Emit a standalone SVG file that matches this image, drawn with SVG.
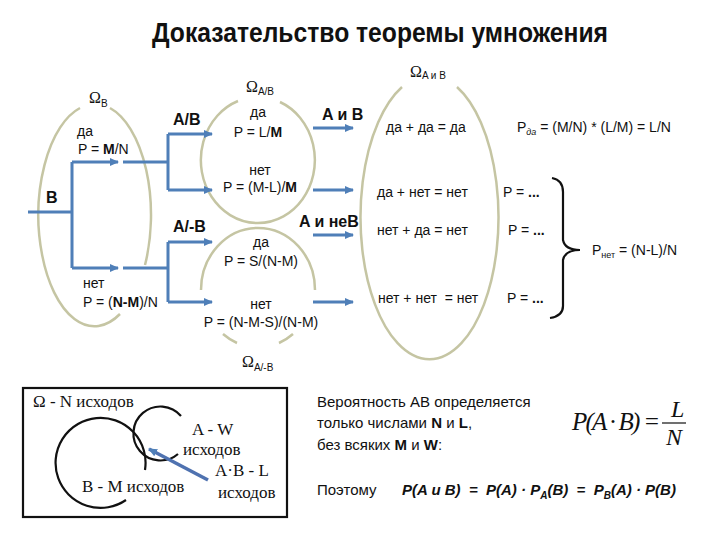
<svg xmlns="http://www.w3.org/2000/svg" width="720" height="540" viewBox="0 0 720 540">
<style>
.t{font-family:"Liberation Sans",Arial,sans-serif;font-size:14px;fill:#111}
.b{font-family:"Liberation Sans",Arial,sans-serif;font-size:16px;font-weight:bold;fill:#111}
.om{font-family:"Liberation Serif","Times New Roman",serif;font-size:16px;fill:#111}
.sub{font-family:"Liberation Sans",Arial,sans-serif;font-size:10px;fill:#111}
.ser{font-family:"Liberation Serif","Times New Roman",serif;font-size:17px;fill:#111}
.r{font-family:"Liberation Sans",Arial,sans-serif;font-size:15px;fill:#111}
.ell{fill:none;stroke:#c5c5a3;stroke-width:2.5}
.con{fill:none;stroke:#4f7fb8;stroke-width:3}
.blk{fill:none;stroke:#111;stroke-width:2.2}
.pre{white-space:pre}
</style>
<defs>
<marker id="ah" markerWidth="10" markerHeight="10" refX="8" refY="5" orient="auto" markerUnits="userSpaceOnUse">
<path d="M0,1 L9,5 L0,9 Z" fill="#4f7fb8"/>
</marker>
</defs>
<rect width="720" height="540" fill="#fff"/>
<text x="152" y="42" font-family="'Liberation Sans',Arial,sans-serif" font-size="27" font-weight="bold" textLength="456" lengthAdjust="spacingAndGlyphs" fill="#111">Доказательство теоремы умножения</text>

<g id="omegaB">
<path class="ell" d="M110,108 A56,111 0 0 1 145,265 M120,314 A56,111 0 1 1 80,108"/>
<text class="om" x="89" y="103">Ω<tspan class="sub" dy="4">B</tspan></text>
<text class="t" x="77" y="136">да</text>
<text class="t" x="78" y="154">P = <tspan font-weight="bold">M</tspan>/N</text>
<text class="t" x="83" y="288">нет</text>
<text class="t" x="83" y="307">P = (<tspan font-weight="bold">N-M</tspan>)/N</text>
<text class="b" x="46" y="203">B</text>
</g>

<g id="omegaAB">
<path class="ell" d="M280,102 A57,63 0 1 1 238,101"/>
<text class="om" x="246" y="92">Ω<tspan class="sub" dy="3">A/B</tspan></text>
<text class="t" x="258" y="117" text-anchor="middle">да</text>
<text class="t" x="258" y="137" text-anchor="middle">P = L/<tspan font-weight="bold">M</tspan></text>
<text class="t" x="260" y="175" text-anchor="middle">нет</text>
<text class="t" x="260" y="192" text-anchor="middle">P = (M-L)/<tspan font-weight="bold">M</tspan></text>
<text class="b" x="173" y="125">A/B</text>
<text class="b" x="322" y="120">A и B</text>
</g>

<g id="omegaAnB">
<path class="ell" d="M201,290 A57,62 0 1 1 315,290 M223,334 A57,62 0 0 0 237,343 M279,343 A57,62 0 0 0 293,334"/>
<text class="om" x="242" y="367">Ω<tspan class="sub" dy="4">A/-B</tspan></text>
<text class="t" x="261" y="247" text-anchor="middle">да</text>
<text class="t" x="261" y="266" text-anchor="middle">P = S/(N-M)</text>
<text class="t" x="261" y="309" text-anchor="middle">нет</text>
<text class="t" x="261" y="327" text-anchor="middle">P = (N-M-S)/(N-M)</text>
<text class="b" x="173" y="232">A/-B</text>
<text class="b" x="299" y="227">A и неB</text>
</g>

<g id="omegaAandB">
<path class="ell" d="M457,87 A69,142 0 1 1 402,87"/>
<text class="om" x="410" y="77">Ω<tspan class="sub" dy="2">A и B</tspan></text>
<text class="t" x="386" y="132">да + да = да</text>
<text class="t" x="377" y="197">да + нет = нет</text>
<text class="t" x="377" y="235">нет + да = нет</text>
<text class="t pre" x="378" y="303">нет + нет  = нет</text>
</g>

<g id="probs">
<text class="t" x="517" y="132">P<tspan font-size="9" font-style="italic" dy="3">да</tspan><tspan dy="-3"> = (M/N) * (L/M) = L/N</tspan></text>
<text class="t" x="503" y="197">P = <tspan font-weight="bold">...</tspan></text>
<text class="t" x="508" y="235">P = <tspan font-weight="bold">...</tspan></text>
<text class="t" x="507" y="303">P = <tspan font-weight="bold">...</tspan></text>
<path class="blk" d="M552,178 Q563,180 563,192 L563,240 Q565,250 580,250 Q565,250 563,260 L563,306 Q563,316 550,318"/>
<text class="t" x="592" y="255">P<tspan font-size="9" dy="3">нет</tspan><tspan dy="-3"> = (N-L)/N</tspan></text>
</g>

<g id="connectors">
<path class="con" d="M28,212 H72 M72,162 V268 M123,162 H168 M168,134 V190 M123,268 H168 M168,242 V302"/>
<path class="con" marker-end="url(#ah)" d="M72,162 H118"/>
<path class="con" marker-end="url(#ah)" d="M72,268 H118"/>
<path class="con" marker-end="url(#ah)" d="M168,134 H212"/>
<path class="con" marker-end="url(#ah)" d="M168,190 H212"/>
<path class="con" marker-end="url(#ah)" d="M168,242 H212"/>
<path class="con" marker-end="url(#ah)" d="M168,302 H212"/>
<path class="con" marker-end="url(#ah)" d="M313,128 H353"/>
<path class="con" marker-end="url(#ah)" d="M313,190 H353"/>
<path class="con" marker-end="url(#ah)" d="M313,235 H353"/>
<path class="con" marker-end="url(#ah)" d="M313,302 H353"/>
</g>

<g id="venn">
<rect x="23" y="388" width="264" height="129" fill="none" stroke="#111" stroke-width="2.2"/>
<text class="ser" x="33" y="407">Ω - N исходов</text>
<path class="blk" d="M126,500 A45,45 0 1 1 145,470"/>
<path class="blk" d="M181,416 A27,27 0 1 0 178,454"/>
<path fill="none" stroke="#4f72b0" stroke-width="3.5" marker-end="url(#ah)" d="M208,480 L149,449"/>
<text class="ser" x="192" y="435">A - W</text>
<text class="ser" x="183" y="455">исходов</text>
<text class="ser" x="215" y="476">A·B - L</text>
<text class="ser" x="218" y="498">исходов</text>
<text class="ser" x="82" y="492">B - M исходов</text>
</g>

<g id="conclusion">
<text class="r" x="317" y="407">Вероятность АВ определяется</text>
<text class="r" x="317" y="428">только числами <tspan font-weight="bold">N</tspan> и <tspan font-weight="bold">L</tspan>,</text>
<text class="r" x="317" y="450">без всяких <tspan font-weight="bold">M</tspan> и <tspan font-weight="bold">W</tspan>:</text>
<text class="pre" x="572" y="430" font-family="'Liberation Serif','Times New Roman',serif" font-size="25" font-style="italic" fill="#111" textLength="88" lengthAdjust="spacing">P(A · B) =</text>
<text x="671" y="417" font-family="'Liberation Serif','Times New Roman',serif" font-size="24" font-style="italic" fill="#111">L</text>
<line x1="662" y1="423" x2="686" y2="423" stroke="#111" stroke-width="1.2"/>
<text x="666" y="445" font-family="'Liberation Serif','Times New Roman',serif" font-size="24" font-style="italic" fill="#111">N</text>
<text class="r" x="317" y="495">Поэтому</text>
<text class="r pre" x="402" y="495" font-weight="bold" font-style="italic">P(A и B)  =  P(A) · P<tspan font-size="10" dy="4">A</tspan><tspan dy="-4">(B)  =  P</tspan><tspan font-size="10" dy="4">B</tspan><tspan dy="-4">(A) · P(B)</tspan></text>
</g>
</svg>
